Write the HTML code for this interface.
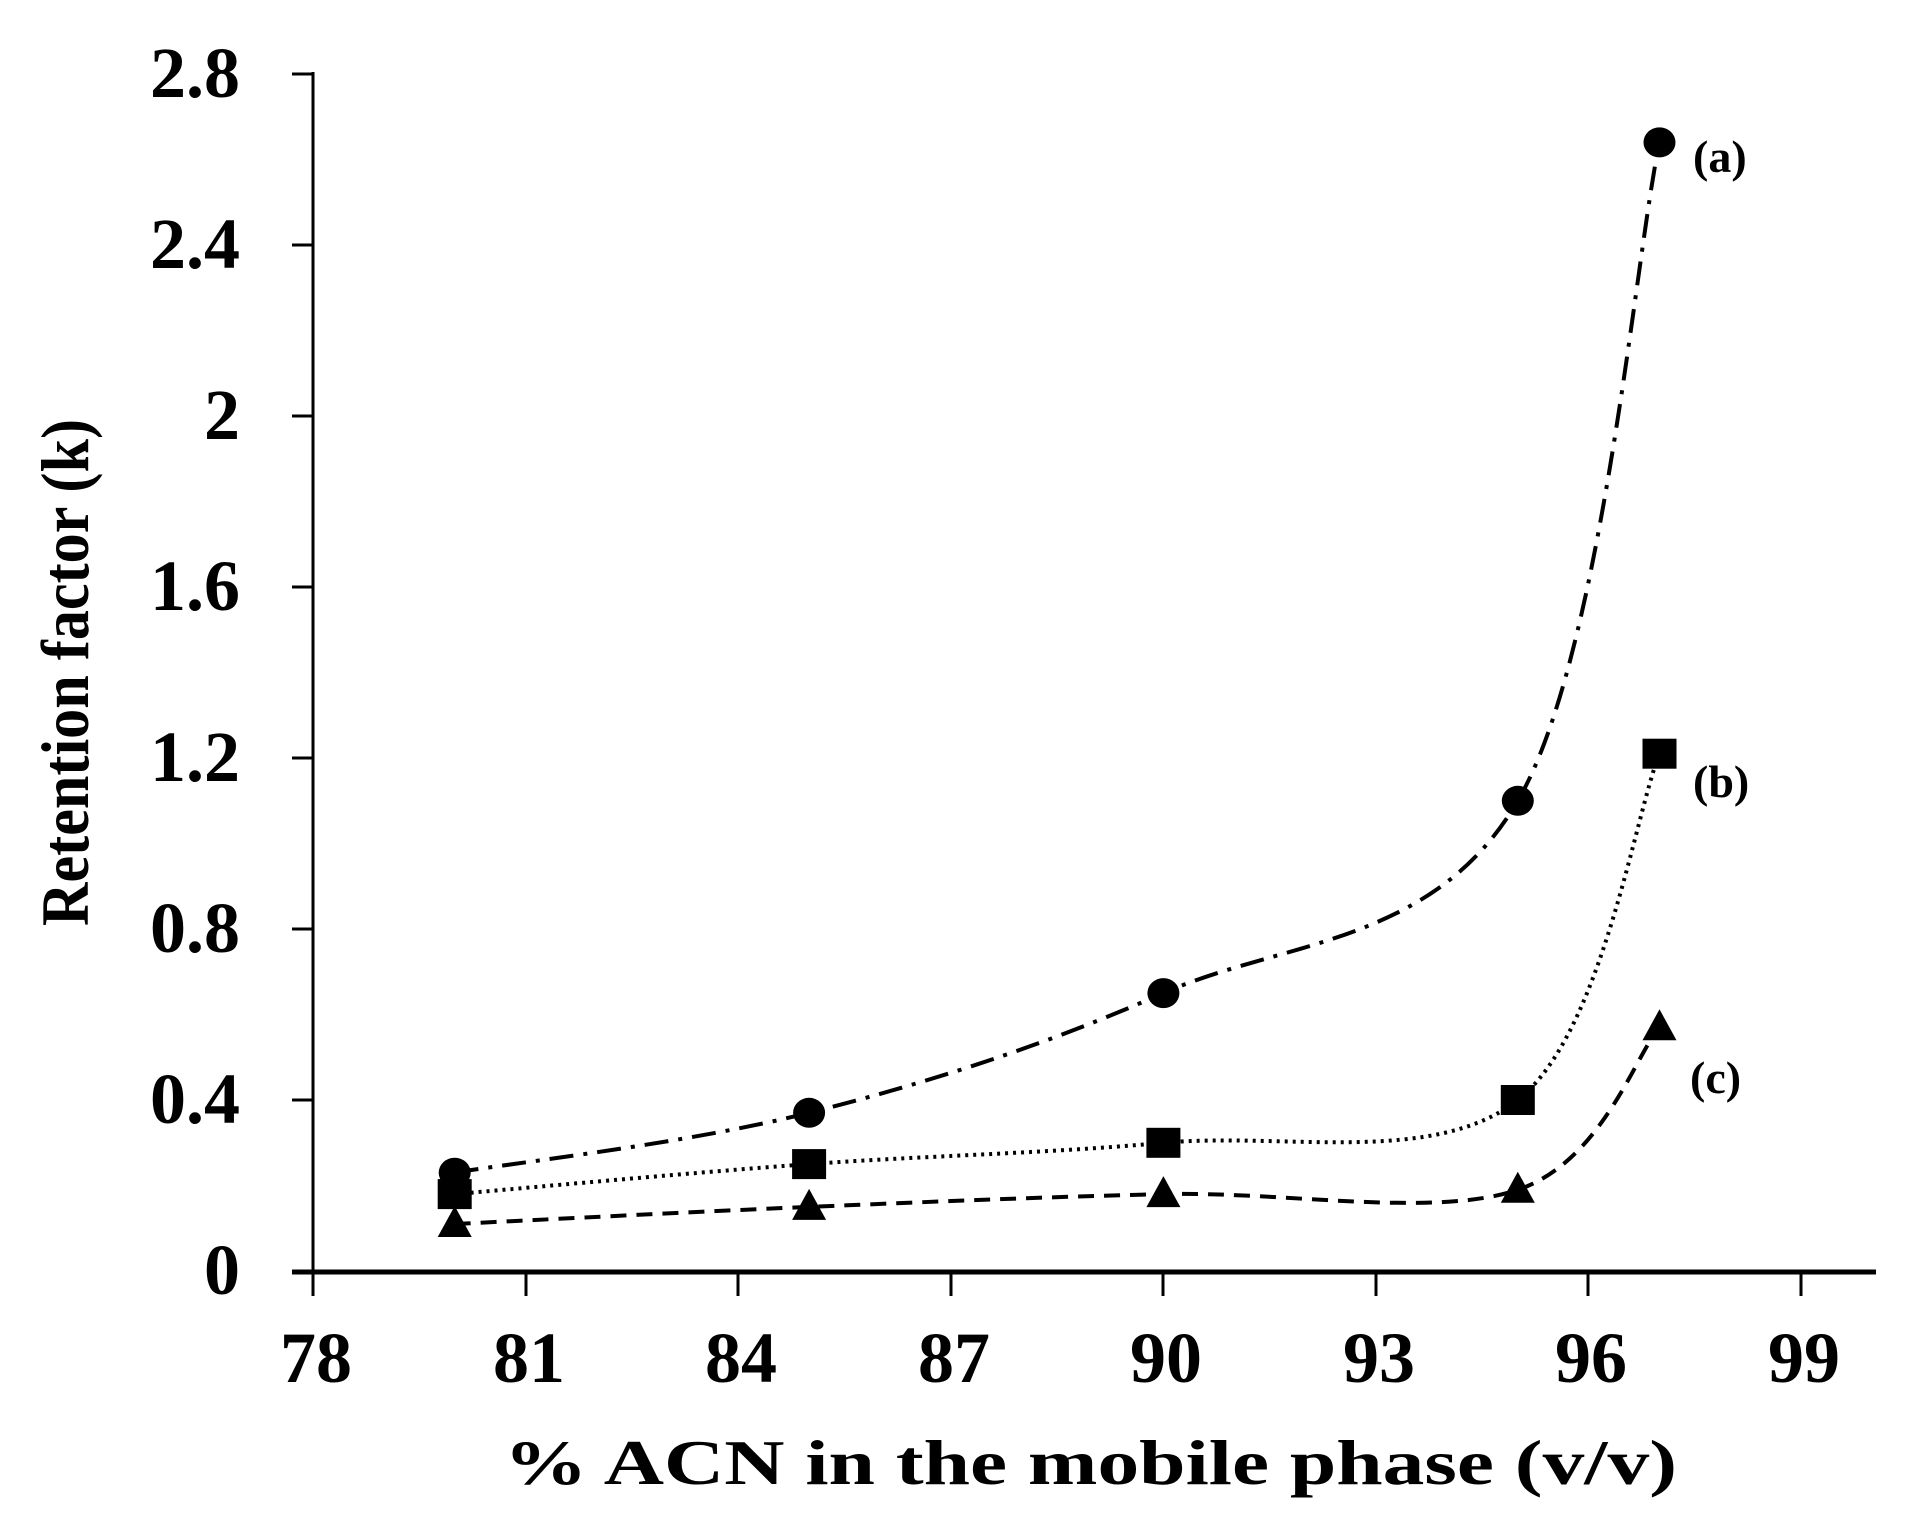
<!DOCTYPE html>
<html><head><meta charset="utf-8"><style>
html,body{margin:0;padding:0;background:#fff;}
svg{display:block;}
text{font-family:"Liberation Serif",serif;font-weight:bold;fill:#000;}
</style></head><body>
<svg id="s" width="1907" height="1515" viewBox="0 0 1907 1515" xmlns="http://www.w3.org/2000/svg">
<g stroke="#000" stroke-width="3">
<line x1="313" y1="72" x2="313" y2="1296"/>
<line x1="292" y1="1272" x2="1876" y2="1272" stroke-width="5"/>
<line x1="292" y1="74" x2="313" y2="74"/>
<line x1="292" y1="245" x2="313" y2="245"/>
<line x1="292" y1="416" x2="313" y2="416"/>
<line x1="292" y1="587" x2="313" y2="587"/>
<line x1="292" y1="758" x2="313" y2="758"/>
<line x1="292" y1="929" x2="313" y2="929"/>
<line x1="292" y1="1100" x2="313" y2="1100"/>
<line x1="526" y1="1272" x2="526" y2="1296"/>
<line x1="738" y1="1272" x2="738" y2="1296"/>
<line x1="951" y1="1272" x2="951" y2="1296"/>
<line x1="1163" y1="1272" x2="1163" y2="1296"/>
<line x1="1376" y1="1272" x2="1376" y2="1296"/>
<line x1="1588" y1="1272" x2="1588" y2="1296"/>
<line x1="1801" y1="1272" x2="1801" y2="1296"/>
</g>
<g font-size="72" text-anchor="end">
<text x="240" y="97">2.8</text>
<text x="240" y="268">2.4</text>
<text x="240" y="439">2</text>
<text x="240" y="610">1.6</text>
<text x="240" y="781">1.2</text>
<text x="240" y="952">0.8</text>
<text x="240" y="1123">0.4</text>
<text x="240" y="1294">0</text>
</g>
<g font-size="72" text-anchor="middle">
<text x="316" y="1382">78</text>
<text x="529" y="1382">81</text>
<text x="741" y="1382">84</text>
<text x="954" y="1382">87</text>
<text x="1166" y="1382">90</text>
<text x="1379" y="1382">93</text>
<text x="1591" y="1382">96</text>
<text x="1804" y="1382">99</text>
</g>
<text x="504" y="1484" font-size="64" textLength="1173" lengthAdjust="spacingAndGlyphs">% ACN in the mobile phase (v/v)</text>
<text transform="translate(88,926) rotate(-90)" font-size="68" textLength="507" lengthAdjust="spacingAndGlyphs">Retention factor (k)</text>
<g font-size="46">
<text x="1693" y="172">(a)</text>
<text x="1693" y="797">(b)</text>
<text x="1690" y="1093">(c)</text>
</g>
<g id="curves" fill="none" stroke="#000" stroke-width="4"></g>
<g id="marks" fill="#000"></g>
</svg>
<script>
var X=[454.7,809.1,1163.4,1517.8,1659.5];
var A=[1172.7,1112.8,993.1,800.8,142.4],B=[1194.1,1164.1,1142.8,1100,753.7],C=[1224,1206.9,1194.1,1189.8,1027.3];
function path(Y){var p=[];for(var i=0;i<5;i++)p.push([X[i],Y[i]]);
var d="M"+p[0][0]+","+p[0][1];
for(var i=0;i<4;i++){var p0=p[i-1]||p[i],p1=p[i],p2=p[i+1],p3=p[i+2]||p2;
var t=0.17;
var c1=[p1[0]+(p2[0]-p0[0])*t,p1[1]+(p2[1]-p0[1])*t],c2=[p2[0]-(p3[0]-p1[0])*t,p2[1]-(p3[1]-p1[1])*t];
d+=" C"+c1+" "+c2+" "+p2;}return d;}
var g=document.getElementById("curves"),ns="http://www.w3.org/2000/svg";
[[A,"24 10 4 10"],[B,"3 5"],[C,"16 10"]].forEach(function(s){var e=document.createElementNS(ns,"path");e.setAttribute("d",path(s[0]));e.setAttribute("stroke-dasharray",s[1]);g.appendChild(e);});
var m=document.getElementById("marks"),h="";
for(var i=0;i<5;i++){
h+='<ellipse cx="'+X[i]+'" cy="'+A[i]+'" rx="16" ry="15"/>';
h+='<rect x="'+(X[i]-17)+'" y="'+(B[i]-15)+'" width="34" height="30"/>';
h+='<polygon points="'+X[i]+','+(C[i]-18)+' '+(X[i]-17)+','+(C[i]+13)+' '+(X[i]+17)+','+(C[i]+13)+'"/>';}
m.innerHTML=h;
</script>
</body></html>
